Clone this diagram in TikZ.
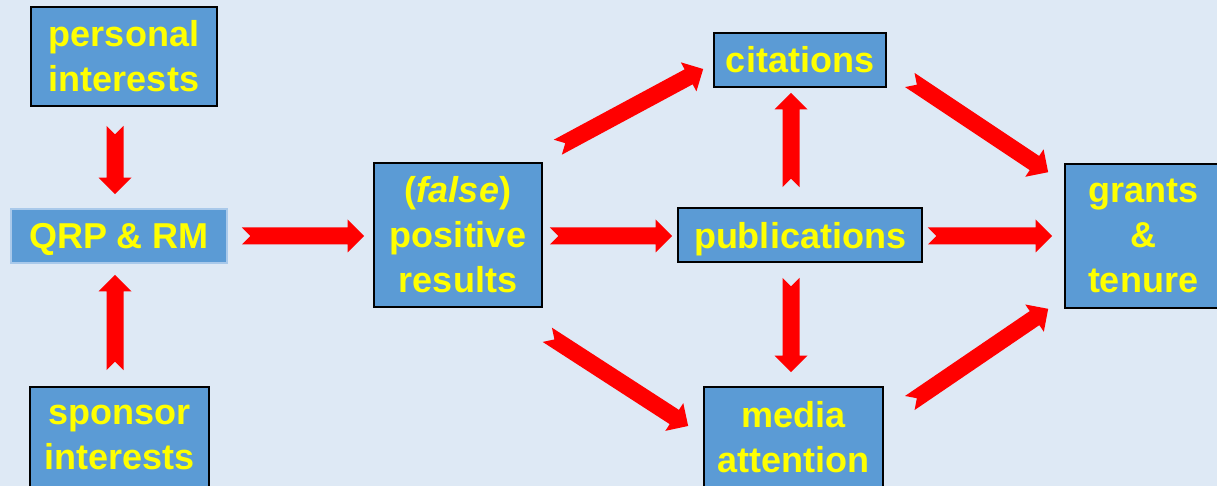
\documentclass[tikz,border=0pt]{standalone}
\usepackage{fontspec}
\setmainfont{Liberation Sans}
\usetikzlibrary{calc}
\definecolor{bgc}{HTML}{DEE9F5}
\definecolor{boxc}{HTML}{5B9BD5}
\definecolor{txtc}{HTML}{FFFF00}
\definecolor{arrc}{HTML}{FF0000}
\definecolor{lightedge}{HTML}{A9C9EA}
\makeatletter
\newdimen\fa@ax \newdimen\fa@ay \newdimen\fa@bx \newdimen\fa@by
\newcommand\fatarrow[2]{%
  \path #1 coordinate (fasA) #2 coordinate (fasB);
  \pgfextractx{\fa@ax}{\pgfpointanchor{fasA}{center}}%
  \pgfextracty{\fa@ay}{\pgfpointanchor{fasA}{center}}%
  \pgfextractx{\fa@bx}{\pgfpointanchor{fasB}{center}}%
  \pgfextracty{\fa@by}{\pgfpointanchor{fasB}{center}}%
  \pgfmathsetmacro\fa@ang{atan2(\the\fa@by-\the\fa@ay,\the\fa@bx-\the\fa@ax)}%
  \pgfmathsetmacro\fa@len{10*veclen((\the\fa@bx-\the\fa@ax)/10,(\the\fa@by-\the\fa@ay)/10)}%
  \fill[fatarrowstyle,shift={(\the\fa@ax,\the\fa@ay)},rotate=\fa@ang]
    (0pt,8.5pt) -- ({\fa@len pt-16.5pt},8.5pt) -- ({\fa@len pt-16.5pt},16.5pt) -- ({\fa@len pt},0pt)
    -- ({\fa@len pt-16.5pt},-16.5pt) -- ({\fa@len pt-16.5pt},-8.5pt) -- (0pt,-8.5pt) -- (8.5pt,0pt) -- cycle;
}
\makeatother
\tikzset{
  fatarrowstyle/.style={fill=arrc},
  box/.style={draw=black, line width=1.6pt, fill=boxc, text=txtc, align=center,
    inner sep=0pt, font=\fontsize{36}{45}\selectfont\bfseries},
  oneline/.style={text height=26pt, text depth=0pt},
}
\begin{document}
\begin{tikzpicture}[x=1pt,y=-1pt]
\useasboundingbox (0,0) rectangle (1217,486);
\fill[bgc] (0,0) rectangle (1217,486);

\node[box, minimum width=186pt, minimum height=99pt] (personal) at (124,56.5) {personal\\interests};
\node[box, oneline, draw=lightedge, minimum width=216pt, minimum height=54pt] (qrp) at (119,236) {QRP \& RM};
\node[box, minimum width=179pt, minimum height=100pt] (sponsor) at (119.5,437) {sponsor\\interests};
\node[box, minimum width=168pt, minimum height=144pt] (pos) at (458,235) {(\textit{false})\\positive\\results};
\node[box, oneline, minimum width=172pt, minimum height=54pt] (cit) at (800,60) {citations};
\node[box, oneline, minimum width=244pt, minimum height=54pt] (pub) at (800,235) {publications};
\node[box, minimum width=179pt, minimum height=100pt] (media) at (793.5,437) {media\\attention};
\node[box, minimum width=156pt, minimum height=144pt] (grants) at (1143,236) {grants\\\&\\tenure};

\fatarrow{($(personal.south)+(-9,19)$)}{($(qrp.north)+(-4,-14)$)}
\fatarrow{($(sponsor.north)+(-4.5,-16)$)}{($(qrp.south)+(-4,11)$)}
\fatarrow{($(qrp.east)+(14,0)$)}{($(pos.west)+(-9,1)$)}
\fatarrow{($(pos.east)+(7,1)$)}{($(pub.west)+(-5,1)$)}
\fatarrow{($(pub.east)+(5,1)$)}{($(grants.west)+(-12,0)$)}
\fatarrow{($(pos.north east)+(15,-15)$)}{($(cit.west)+(-10,9)$)}
\fatarrow{($(cit.east)+(23,20)$)}{($(grants.north west)+(-16,9)$)}
\fatarrow{($(pos.south east)+(4.5,27)$)}{($(media.west)+(-15,-11)$)}
\fatarrow{($(media.east)+(26,-34)$)}{($(grants.south west)+(-16,0)$)}
\fatarrow{($(pub.north)+(-9,-20)$)}{($(cit.south)+(-9,5)$)}
\fatarrow{($(pub.south)+(-9,15)$)}{($(media.north)+(-2.5,-14)$)}
\end{tikzpicture}
\end{document}
